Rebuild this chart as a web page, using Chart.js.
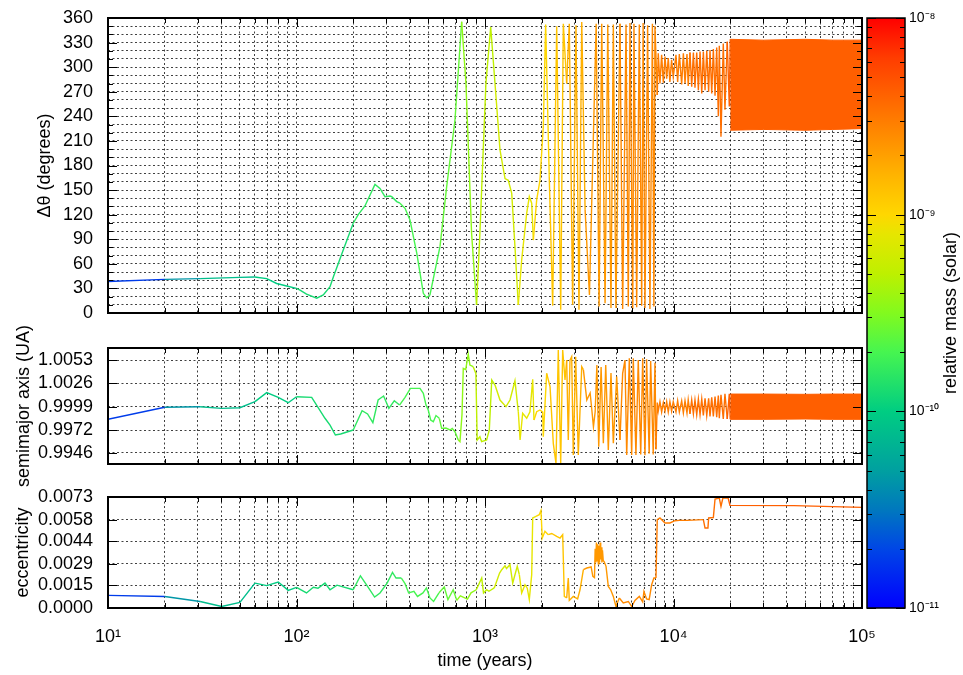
<!DOCTYPE html>
<html>
<head>
<meta charset="utf-8">
<script src="https://cdn.jsdelivr.net/npm/chart.js@4/dist/chart.umd.min.js"></script>
<style>
html,body{margin:0;padding:0;background:#fff;}
#wrap{position:relative;width:963px;height:675px;overflow:hidden;background:#fff;}
canvas{position:absolute;}
</style>
</head>
<body>
<div id="wrap">
<canvas id="c1" width="963" height="330" style="left:0px;top:0px"></canvas>
<canvas id="c2" width="963" height="180" style="left:0px;top:315px"></canvas>
<canvas id="c3" width="963" height="195" style="left:0px;top:480px"></canvas>
<canvas id="cb" width="103" height="640" style="left:860px;top:0px"></canvas>
</div>
<script>
// ---------------- DATA ----------------
const xTitle = 'time (years)';
const thetaTitle = 'Δθ (degrees)';
const axisTitle = 'semimajor axis (UA)';
const eccTitle = 'eccentricity';
const massTitle = 'relative mass (solar)';

const xGridTicks = [10,20,30,40,50,60,70,80,90,100,200,300,400,500,600,700,800,900,
  1000,2000,3000,4000,5000,6000,7000,8000,9000,10000,20000,30000,40000,50000,60000,70000,80000,90000,100000];
const xLabelTicks = [10,100,1000,10000,100000];

const thetaTicks = [0,10,20,30,40,50,60,70,80,90,100,110,120,130,140,150,160,170,180,190,200,210,220,230,240,250,260,270,280,290,300,310,320,330,340,350,360];
const axisTicks = [0.9946,0.9972,0.9999,1.0026,1.0053];
const eccTicks = [0.0000,0.0015,0.0029,0.0044,0.0058,0.0073];
const massTicks = [1e-11,1e-10,1e-9,1e-8];

// Δθ (degrees) vs time (years)
const thetaTime = [10,20,30.8,50,60,69.5,78.5,88.7,100,104.4,
  113,128,138.7,150.6,156.8,177,200,212.6,230.7,260.8,
  277.3,294.6,313.4,320,340.2,354,376.5,400,434.5,470.8,
  490,510.5,577,626,693,752,792.5,849,902,939.5,
  1011,1072,1130,1201,1277,1329,1386,1442,1502,1565,
  1664,1718,1769,1805,1880,1957,2038,2098,2192,2286,
  2401,2521,2603,2712,2800,2918,3038,3152,3260,3396,
  3581,3889,4030,4162,4335,4480,4660,4795,4950,5200,
  5374,5600,5757,5877,6080,6168,6378,6585,6780,6900,
  7057,7290,7500,7730,7871,7974,8200,8300,8475,8650,
  8830,9015,9200,9380,9570,9770,9970,10306,10520,10740,
  11050,11280,11510,11790,11970,12230,12490,12750,13000,13280,
  13550,13830,14120,14400,14700,15010,15360,15620,15950,16270,
  16610,16950,17290,17500,17860,18370,18750,19280,19770,20000];
const thetaValue = [38.5,41,42,43.5,44,42,36,33,30,28,
  23,18,22,32,44,77,109.5,120,130.6,157,
  152,142,142.8,142,136,134,127.8,113.5,73,24,
  18.7,22,81,154,235.5,355.5,280,97,9.8,97,
  280,349,280,199,164,162,146,81,9.8,64.7,
  121.7,142,134,89,138,162,227,352,166,9,
  350,4,353,280,353,10,351,4,355,126,
  22,353,8,353,12,352,6,352,6,353,
  5,352,8,354,5,353,7,352,9,354,
  6,351,5,353,8,350,266,317,280,315,
  281,313,286,311,282,309,288,315,282,316,
  279,317,280,316,277,318,276,318,275,318,
  272,319,268,319,272,320,270,321,268,322,
  265,324,240,326,215,329,248,331,252,334];
// dense oscillation after 2e4 years, read as its envelope
const thetaBandTime = [20000,30000,50000,70000,100000];
const thetaBandHigh = [334,333,334,333,333];
const thetaBandLow = [223,224,223,224,225];

// semimajor axis (UA) vs time
const axisTime = [10,20,30.8,40.1,50.1,60.2,69.5,80,90.4,100,
  120.4,141.6,150.6,160.8,171.5,200,222.8,238.2,254.2,271,
  289.8,309,330.2,352,376.5,402,452,470.8,486.5,500,
  515,532,549.5,572,589,620,652,670,693,721.5,
  736.5,755,767,790,815,831.6,865.7,894.7,909,939.5,
  959.4,1020,1054,1086,1130,1201,1292,1357,1442,1502,
  1535,1584,1664,1732,1791,1819,1880,1957,2023,2038,
  2124,2213,2303,2380,2448,2521,2583,2657,2712,2766,
  2824,2883,2940,3027,3125,3260,3326,3468,3612,3688,
  3761,3841,3922,4012,4130,4245,4370,4510,4660,4795,
  4995,5200,5374,5529,5646,5829,6000,6118,6320,6503,
  6700,6864,7057,7200,7430,7566,7805,7974,8072,8200,
  8300,8475,8650,8830,9015,9200,9380,9570,9770,9970,
  10306,10520,10740,11050,11280,11510,11790,11970,12230,12490,
  12750,13000,13280,13550,13830,14120,14400,14700,15010,15360,
  15620,15950,16270,16610,16950,17290,17500,17860,18370,18750,
  19280,19770,20000];
const axisValue = [0.99846,0.99985,0.99992,0.99973,0.9998,1.0005,1.00154,1.0010,1.00038,1.00107,
  1.0010,0.99858,0.9978,0.99665,0.99677,0.99723,0.99946,0.99908,0.99807,1.00069,
  1.00115,0.99973,1.00061,1.00011,1.0010,1.00204,1.00204,1.00147,1.00011,0.99954,
  0.99838,0.99819,0.9989,0.99858,0.99742,0.99745,0.99723,0.9974,0.99703,0.99607,
  0.99588,0.9990,1.00435,1.0042,1.0060,1.00473,1.00454,1.00377,0.99607,0.99645,
  0.99588,0.99607,0.99723,1.0030,1.00242,1.00069,0.99992,1.00069,1.00292,0.99934,
  0.99607,0.99915,0.99858,0.99934,1.00308,0.99838,0.99934,0.99954,0.9993,0.99645,
  1.00377,1.00223,0.99569,0.99338,1.00647,0.9934,1.00647,1.0030,1.0053,0.99607,
  1.0053,1.0057,0.99434,1.0057,0.99434,1.00454,1.0042,1.00069,1.0015,0.99954,
  0.9976,0.99934,1.00473,0.9953,1.0045,0.9957,1.00473,0.99492,1.0038,0.9957,
  1.0034,0.99607,1.00377,1.0053,0.99434,1.0055,0.99434,1.0055,0.99434,1.0053,
  0.9944,1.0055,0.9943,1.0054,0.9945,1.0052,0.9944,1.0050,0.9950,1.0004,
  0.9994,1.0005,0.9993,1.0004,0.9994,1.0005,0.9993,1.0005,0.9994,1.0005,
  0.9993,1.0006,0.9993,1.0006,0.9992,1.0006,0.9992,1.0007,0.9991,1.0007,
  0.9991,1.0007,0.9990,1.0008,0.9990,1.0008,0.9989,1.0009,0.9989,1.0009,
  0.9988,1.0010,0.9988,1.0011,0.9987,1.0012,0.9986,1.0013,0.9985,1.0014,
  0.9985,1.0014,0.99846];
const axisBandTime = [20000,30000,50000,70000,100000];
const axisBandHigh = [1.00138,1.00138,1.00135,1.00138,1.00138];
const axisBandLow = [0.99846,0.99846,0.9985,0.99846,0.99846];

// eccentricity vs time
const eccTime = [10,20,30.8,40.1,50.1,60.2,69.5,80,90.4,100,
  113,122.8,130,141.6,150.6,164,200,218.3,238.2,259.6,
  277.3,302.5,323,337.3,360,376.5,393.5,419.6,438.5,468.6,
  489,510.5,533.6,570,608,635.8,678,708.6,740,807,
  843,899,960.5,982,1020,1049,1120,1195,1227,1277,
  1300,1357,1403,1442,1483,1521,1565,1630,1676,1718,
  1769,1791,1864,1940,1981,2013,2080,2166,2259,2401,
  2500,2583,2635,2712,2766,2800,2940,3100,3192,3326,
  3468,3657,3733,3808,3841,3870,3900,3930,3960,3990,
  4020,4050,4080,4110,4140,4170,4200,4240,4281,4386,
  4510,4643,4795,4950,5158,5415,5757,6000,6243,6585,
  6864,6970,7200,7430,7657,7871,8072,8200,8475,9015,
  9570,10180,10740,11790,14400,14700,15230,15360,16270,16610,
  17500,17860,18280,19500,19930,43550,100000];
const eccValue = [0.00083,0.00076,0.00043,0.0001,0.00037,0.00164,0.00147,0.00171,0.00116,0.00136,
  0.00099,0.00136,0.0013,0.00164,0.0012,0.0015,0.0012,0.00212,0.00142,0.00072,
  0.00099,0.00164,0.00234,0.00197,0.00197,0.0016,0.00099,0.00109,0.00076,0.00099,
  0.00132,0.00066,0.00043,0.0010,0.00138,0.00055,0.0012,0.0005,0.0008,0.00059,
  0.0010,0.0012,0.00197,0.00099,0.0012,0.0011,0.00132,0.0023,0.00252,0.00278,
  0.0026,0.00285,0.00164,0.00219,0.00274,0.00219,0.00099,0.00153,0.0013,0.00055,
  0.00219,0.00592,0.00603,0.00614,0.00642,0.0046,0.00504,0.00482,0.0049,0.00471,
  0.0046,0.00482,0.00076,0.00066,0.00197,0.0005,0.00076,0.0006,0.0012,0.00252,
  0.00263,0.0027,0.00208,0.0020,0.0039,0.0030,0.0043,0.0031,0.0042,0.0029,
  0.0041,0.0030,0.0043,0.0032,0.0040,0.0030,0.0038,0.0031,0.00306,0.00274,
  0.00142,0.0012,0.00076,0.0001,0.00066,0.00033,0.00043,0.0001,0.0005,0.00076,
  0.0004,0.00109,0.0006,0.00055,0.00153,0.00197,0.00197,0.00581,0.00592,0.00559,
  0.00559,0.00574,0.00576,0.00576,0.00581,0.00526,0.00526,0.00592,0.00595,0.00717,
  0.00723,0.00668,0.00723,0.00723,0.00675,0.00673,0.00662];

// relative mass (solar) along the run (step lookup)
const massTime = [10,14,20,30,60,100,200,350,550,700,850,1100,1500,1800,2100,2700,3300,5000,8000,12000,19000];
const massValue = [1.8e-11,3.2e-11,4.5e-11,8e-11,1e-10,1.26e-10,1.6e-10,2e-10,2.5e-10,3.5e-10,5e-10,6.3e-10,8e-10,1e-9,1.26e-9,1.66e-9,2.2e-9,2.6e-9,3e-9,3.5e-9,4.2e-9];

// sanity checks
[['theta',thetaTime,thetaValue],['axis',axisTime,axisValue],['ecc',eccTime,eccValue],['mass',massTime,massValue]].forEach(([n,a,b])=>{
  if (a.length !== b.length) throw new Error(n + ' length mismatch ' + a.length + ' vs ' + b.length);
});

// ---------------- STYLE ----------------
const FONT = "'Liberation Sans', Arial, Helvetica, sans-serif";
const GRID_COLOR = 'rgba(0,0,0,0.75)';
const GRID_DASH = [2, 2.5];
const paletteLog = [-11,-10.7,-10.5,-10.3,-10,-9.7,-9.5,-9.3,-9.1,-9,-8.8,-8.5,-8.2,-8];
const paletteRGB = [[0,0,255],[0,70,230],[0,120,190],[0,160,160],[0,205,130],[70,245,80],[130,250,30],[190,240,0],[230,230,0],[255,215,0],[255,180,0],[255,120,0],[255,60,0],[255,0,0]];

function rgbStr(c){ return 'rgb(' + c.map(v=>Math.round(v)).join(',') + ')'; }
function colorForLog(e){
  if (e <= paletteLog[0]) return rgbStr(paletteRGB[0]);
  for (let i = 1; i < paletteLog.length; i++) {
    if (e <= paletteLog[i]) {
      const f = (e - paletteLog[i-1]) / (paletteLog[i] - paletteLog[i-1]);
      const a = paletteRGB[i-1], b = paletteRGB[i];
      return rgbStr([a[0]+(b[0]-a[0])*f, a[1]+(b[1]-a[1])*f, a[2]+(b[2]-a[2])*f]);
    }
  }
  return rgbStr(paletteRGB[paletteRGB.length-1]);
}
function massAt(t){
  let m = massValue[0];
  for (let i = 0; i < massTime.length; i++) if (massTime[i] <= t) m = massValue[i];
  return m;
}
function massColor(t){ return colorForLog(Math.log10(massAt(t))); }

const SUP = {'0':'⁰','1':'¹','2':'²','3':'³','4':'⁴','5':'⁵','6':'⁶','7':'⁷','8':'⁸','9':'⁹','-':'⁻'};
function pow10Label(v){
  const e = Math.round(Math.log10(v));
  return '10' + String(e).split('').map(c => SUP[c]).join('');
}
function isDecade(v){ const l = Math.log10(v); return Math.abs(l - Math.round(l)) < 1e-9; }
function pts(xs, ys){ return xs.map((x, i) => ({x: x, y: ys[i]})); }

const framePlugin = {
  id: 'frame',
  afterDraw(chart) {
    const {ctx, chartArea: a} = chart;
    const xs = chart.scales.x, ys = chart.scales.y;
    ctx.save();
    ctx.strokeStyle = '#000';
    ctx.lineWidth = 1;
    ctx.beginPath();
    xs.ticks.forEach(tk => {
      const px = Math.round(xs.getPixelForValue(tk.value)) + 0.5;
      const len = isDecade(tk.value) ? 9 : 5;
      ctx.moveTo(px, a.bottom); ctx.lineTo(px, a.bottom - len);
      ctx.moveTo(px, a.top); ctx.lineTo(px, a.top + len);
    });
    ys.ticks.forEach(tk => {
      const py = Math.round(ys.getPixelForValue(tk.value)) + 0.5;
      const len = (tk.label !== '' && tk.label !== undefined) ? 9 : 5;
      ctx.moveTo(a.left, py); ctx.lineTo(a.left + len, py);
      ctx.moveTo(a.right, py); ctx.lineTo(a.right - len, py);
    });
    ctx.stroke();
    ctx.lineWidth = 2;
    ctx.strokeRect(a.left, a.top, a.right - a.left, a.bottom - a.top);
    ctx.restore();
  }
};

function lineDataset(xs, ys){
  return {
    data: pts(xs, ys), borderWidth: 1.4, pointRadius: 0, tension: 0, fill: false,
    borderColor: massColor(xs[0]),
    segment: { borderColor: c => massColor(c.p0.parsed.x) }
  };
}
function bandDatasets(xs, hi, lo){
  const col = massColor(xs[0]);
  return [
    { data: pts(xs, hi), borderWidth: 1, borderColor: col, pointRadius: 0, fill: false },
    { data: pts(xs, lo), borderWidth: 1, borderColor: col, backgroundColor: col, pointRadius: 0, fill: '-1' }
  ];
}

function makePanel(id, cfg){
  return new Chart(document.getElementById(id), {
    type: 'line',
    data: { datasets: cfg.datasets },
    options: {
      responsive: false, animation: false, events: [],
      layout: { padding: cfg.padding, autoPadding: false },
      scales: {
        x: {
          type: 'logarithmic', min: 10, max: 100000, z: 1,
          afterBuildTicks: s => { s.ticks = xGridTicks.map(v => ({value: v})); },
          afterFit: s => { s.height = cfg.xHeight; },
          ticks: { display: cfg.showX, autoSkip: false, maxRotation: 0, minRotation: 0, padding: 18,
                   color: '#000', font: {family: FONT, size: 18},
                   callback: v => xLabelTicks.includes(v) ? pow10Label(v) : '' },
          grid: { color: GRID_COLOR, lineWidth: 1, drawTicks: false },
          border: { display: false, dash: GRID_DASH },
          title: { display: cfg.showX, text: xTitle, color: '#000', font: {family: FONT, size: 18}, padding: {top: 0, bottom: 3} }
        },
        y: {
          type: 'linear', min: cfg.yMin, max: cfg.yMax, z: 1,
          afterBuildTicks: s => { s.ticks = cfg.yTicks.map(v => ({value: v})); },
          afterFit: s => { s.width = 108; },
          ticks: { autoSkip: false, padding: 0, color: '#000', font: {family: FONT, size: 18}, callback: cfg.yLabel },
          grid: { color: GRID_COLOR, lineWidth: 1, drawTicks: true, tickLength: 15, tickColor: 'rgba(0,0,0,0)' },
          border: { display: false, dash: GRID_DASH },
          title: { display: true, text: cfg.yTitle, color: '#000', font: {family: FONT, size: 18}, padding: {top: cfg.titlePad, bottom: 0} }
        }
      },
      plugins: { legend: {display: false}, tooltip: {enabled: false} }
    },
    plugins: [framePlugin]
  });
}

makePanel('c1', {
  datasets: [lineDataset(thetaTime, thetaValue)].concat(bandDatasets(thetaBandTime, thetaBandHigh, thetaBandLow)),
  padding: {top: 18, bottom: 17, left: 0, right: 101},
  xHeight: 0, showX: false,
  yMin: 0, yMax: 360, yTicks: thetaTicks,
  yLabel: v => (v % 30 === 0 ? String(v) : ''),
  yTitle: thetaTitle, titlePad: 34
});
makePanel('c2', {
  datasets: [lineDataset(axisTime, axisValue)].concat(bandDatasets(axisBandTime, axisBandHigh, axisBandLow)),
  padding: {top: 33, bottom: 31, left: 0, right: 101},
  xHeight: 0, showX: false,
  yMin: 0.9933, yMax: 1.0067, yTicks: axisTicks,
  yLabel: v => v.toFixed(4),
  yTitle: axisTitle, titlePad: 13
});
makePanel('c3', {
  datasets: [lineDataset(eccTime, eccValue)],
  padding: {top: 17, bottom: 0, left: 0, right: 101},
  xHeight: 67, showX: true,
  yMin: 0, yMax: 0.0073, yTicks: eccTicks,
  yLabel: v => v.toFixed(4),
  yTitle: eccTitle, titlePad: 12.5
});

// ---------------- colour bar ----------------
const cbPlugin = {
  id: 'cbframe',
  afterDraw(chart) {
    const {ctx, chartArea: a} = chart;
    const ys = chart.scales.y;
    ctx.save();
    ctx.strokeStyle = '#000';
    ctx.lineWidth = 1;
    ctx.beginPath();
    for (let d = -11; d <= -8; d++) {
      for (let k = 1; k <= 9; k++) {
        if (d === -8 && k > 1) break;
        const v = k * Math.pow(10, d);
        const py = Math.round(ys.getPixelForValue(v)) + 0.5;
        const len = k === 1 ? 9 : 5;
        ctx.moveTo(a.left, py); ctx.lineTo(a.left + len, py);
        ctx.moveTo(a.right, py); ctx.lineTo(a.right - len, py);
      }
    }
    ctx.stroke();
    ctx.lineWidth = 1.5;
    ctx.strokeRect(a.left, a.top, a.right - a.left, a.bottom - a.top);
    ctx.fillStyle = '#000';
    ctx.font = '18px ' + FONT;
    ctx.textAlign = 'center';
    ctx.textBaseline = 'middle';
    ctx.translate(91, (a.top + a.bottom) / 2);
    ctx.rotate(-Math.PI / 2);
    ctx.fillText(massTitle, 0, 0);
    ctx.restore();
  }
};

new Chart(document.getElementById('cb'), {
  type: 'bar',
  data: {
    labels: [''],
    datasets: [{
      data: [[massTicks[0], massTicks[massTicks.length - 1]]],
      borderWidth: 0, barPercentage: 1, categoryPercentage: 1,
      backgroundColor: (c) => {
        const chart = c.chart, a = chart.chartArea;
        if (!a) return '#888';
        const g = chart.ctx.createLinearGradient(0, a.bottom, 0, a.top);
        paletteLog.forEach((e, i) => g.addColorStop((e - paletteLog[0]) / (paletteLog[paletteLog.length-1] - paletteLog[0]), rgbStr(paletteRGB[i])));
        return g;
      }
    }]
  },
  options: {
    responsive: false, animation: false, events: [],
    layout: { padding: {left: 7, top: 18, bottom: 32, right: 0}, autoPadding: false },
    scales: {
      x: { display: false },
      y: {
        type: 'logarithmic', position: 'right', min: 1e-11, max: 1e-8,
        afterBuildTicks: s => { s.ticks = massTicks.map(v => ({value: v})); },
        afterFit: s => { s.width = 58; },
        ticks: { autoSkip: false, padding: 4, color: '#000', font: {family: FONT, size: 14}, callback: v => pow10Label(v) },
        grid: { display: false, drawTicks: false },
        border: { display: false }
      }
    },
    plugins: { legend: {display: false}, tooltip: {enabled: false} }
  },
  plugins: [cbPlugin]
});
</script>
</body>
</html>
